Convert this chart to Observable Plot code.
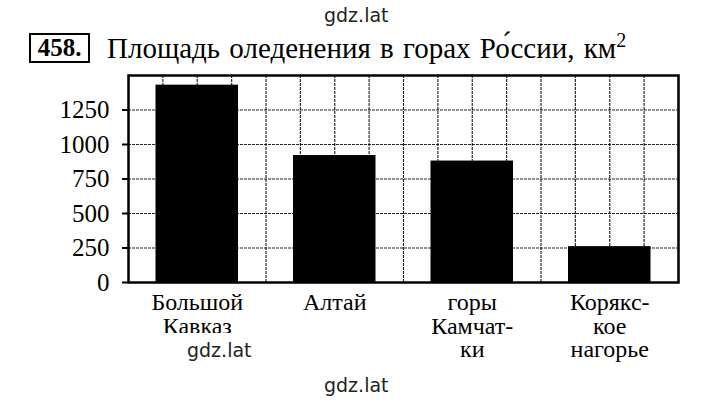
<!DOCTYPE html>
<html>
<head>
<meta charset="utf-8">
<script src="https://cdn.jsdelivr.net/npm/d3@7"></script>
<script src="https://cdn.jsdelivr.net/npm/@observablehq/plot@0.6"></script>
<style>
  html, body { margin: 0; padding: 0; background: #fff; width: 720px; height: 409px; overflow: hidden; }
  #wrap { position: relative; width: 720px; height: 409px; }
  .wm { position: absolute; font-family: "DejaVu Sans", sans-serif; font-size: 19px; color: #222; line-height: 20px; }
  #num { position: absolute; left: 29px; top: 33px; width: 57px; height: 26px; border: 2px solid #000;
         font-family: "Liberation Serif", serif; font-weight: bold; font-size: 25px; line-height: 26px; text-align: center; }
  #title { position: absolute; left: 107px; top: 31px; font-family: "Liberation Serif", serif; font-size: 29px; line-height: 34px; color: #000; white-space: nowrap; word-spacing: 2px; }
  #title sup { font-size: 20px; vertical-align: 0; position: relative; top: -11px; }
  #chart { position: absolute; left: 0; top: 60px; }
  #cover { position: absolute; left: 150px; top: 333px; width: 120px; height: 35px; background: #fff; }
</style>
</head>
<body>
<div id="wrap">
  <div class="wm" style="left:324px;top:5px;">gdz.lat</div>
  <div id="num">458.</div>
  <div id="title">Площадь оледенения в горах Ро́ссии, км<sup>2</sup></div>
  <div id="chart"></div>
  <div id="cover"><div class="wm" style="left:37px;top:7px;">gdz.lat</div></div>
  <div class="wm" style="left:324px;top:375px;">gdz.lat</div>
</div>
<script>
const categories = ["Большой\nКавказ", "Алтай", "горы\nКамчат-\nки", "Корякс-\nкое\nнагорье"];
const values = [1430, 920, 880, 260];
const yTicks = [0, 250, 500, 750, 1000, 1250];
const yMax = 1500;
const cellsPerCategory = 4;

const table = categories.map((c, i) => ({cat: c, value: values[i], i}));
const nCells = categories.length * cellsPerCategory;
const centers = table.map(d => d.i * cellsPerCategory + cellsPerCategory / 2);

const plot = Plot.plot({
  width: 720,
  height: 349,
  marginTop: 15,
  marginBottom: 127,
  marginLeft: 128,
  marginRight: 42,
  style: {fontFamily: "'Liberation Serif', serif", fontSize: "24px", color: "#000", background: "transparent"},
  x: {domain: [0, nCells]},
  y: {domain: [0, yMax]},
  marks: [
    Plot.gridX(d3.range(0, nCells + 1), {stroke: "#000", strokeOpacity: 0.85, strokeDasharray: "3,1", strokeWidth: 1.2}),
    Plot.gridY(d3.range(0, yMax + 1, 250), {stroke: "#000", strokeOpacity: 0.85, strokeDasharray: "3,1", strokeWidth: 1.2}),
    Plot.rectY(table, {
      x1: d => d.i * cellsPerCategory + 0.8,
      x2: d => d.i * cellsPerCategory + 3.2,
      y: "value",
      fill: "#000"
    }),
    Plot.frame({stroke: "#000", strokeWidth: 2.5}),
    Plot.axisY(yTicks, {tickSize: 6, tickPadding: 13, fontSize: 25, label: null, strokeWidth: 2, tickFormat: d => String(d)}),
    Plot.axisX(centers, {
      tickSize: 0, tickPadding: 11, fontSize: 24, label: null, lineHeight: 0.98,
      tickFormat: v => categories[(v - cellsPerCategory / 2) / cellsPerCategory]
    })
  ]
});
document.getElementById("chart").appendChild(plot);
</script>
</body>
</html>
